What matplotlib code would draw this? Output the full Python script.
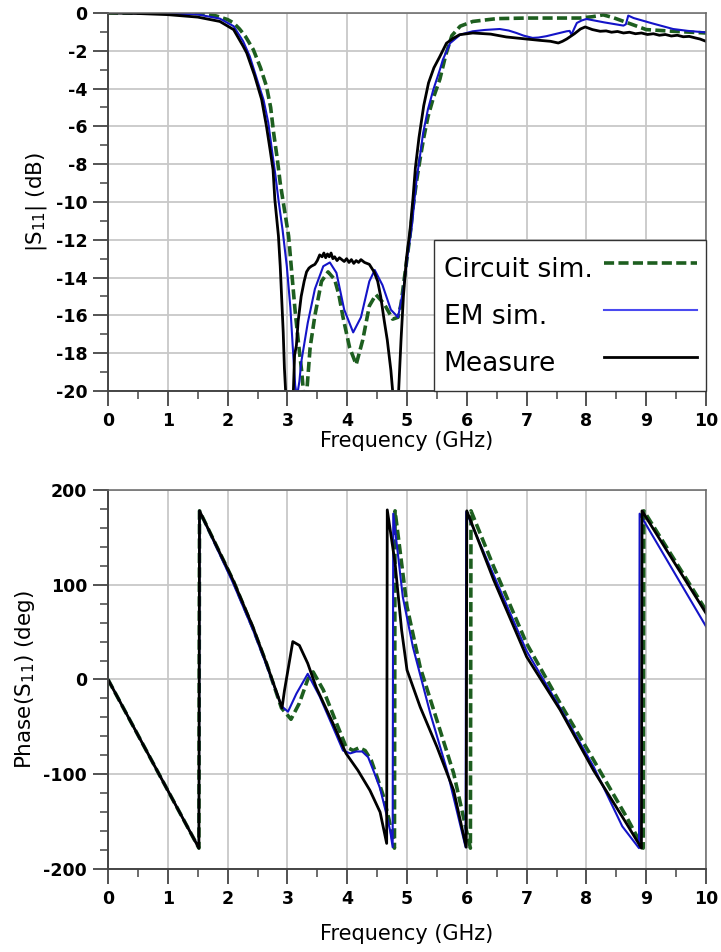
import matplotlib
matplotlib.use("Agg")
import matplotlib.pyplot as plt
from matplotlib.ticker import MultipleLocator

plt.rcParams['font.family'] = ['DejaVu Sans']
plt.rcParams['axes.unicode_minus'] = False
plt.rcParams['mathtext.fontset'] = 'dejavusans'

# ---------------- |S11| data (dB) ----------------
f_mag_circ = [0, 0.5, 1.0, 1.5, 1.8, 2.0, 2.1, 2.2, 2.3, 2.43, 2.55, 2.65, 2.72, 2.77, 2.83,
              2.88, 2.95, 3.02, 3.08, 3.13, 3.19, 3.24, 3.28, 3.3, 3.32, 3.38, 3.46, 3.57,
              3.68, 3.79, 3.86, 3.93, 4.04, 4.15, 4.26, 4.37, 4.48, 4.62, 4.76, 4.85, 4.9,
              4.94, 5.0, 5.05, 5.1, 5.16, 5.22, 5.28, 5.35, 5.44, 5.55, 5.65, 5.75, 5.89,
              6.1, 6.5, 7.0, 7.5, 7.89, 8.1, 8.28, 8.45, 8.67, 9.0, 9.45, 10.0]
mag_circ = [0, 0, -0.01, -0.03, -0.15, -0.35, -0.53, -0.85, -1.25, -1.94, -2.9, -3.88, -5.0,
            -6.35, -7.7, -9.0, -10.4, -11.8, -14.0, -15.8, -17.6, -19.0, -20.5, -20.6, -20.2,
            -17.7, -16.0, -14.2, -13.7, -14.1, -14.9, -16.1, -17.7, -18.6, -17.3, -15.5,
            -14.9, -15.4, -16.2, -16.1, -15.4, -14.4, -13.0, -11.8, -10.3, -8.9, -7.7,
            -6.6, -5.5, -4.5, -3.5, -2.2, -1.2, -0.7, -0.45, -0.3, -0.27, -0.27, -0.27,
            -0.2, -0.1, -0.25, -0.5, -0.88, -0.97, -1.06]

f_mag_em = [0, 0.5, 1.0, 1.5, 1.87, 2.1, 2.26, 2.37, 2.5, 2.6, 2.68, 2.74, 2.8, 2.85, 2.92,
            2.99, 3.05, 3.1, 3.13, 3.16, 3.2, 3.23, 3.34, 3.46, 3.6, 3.71, 3.82, 3.95, 4.1,
            4.23, 4.37, 4.46, 4.59, 4.73, 4.85, 4.94, 5.02, 5.08, 5.16, 5.22, 5.27, 5.35,
            5.44, 5.55, 5.6, 5.72, 5.89, 6.1, 6.3, 6.55, 6.7, 6.83, 6.95, 7.1, 7.2, 7.33,
            7.5, 7.67, 7.72, 7.75, 7.8, 7.84, 7.92, 8.0, 8.3, 8.62, 8.66, 8.7, 8.79, 9.1,
            9.45, 9.7, 10.0]
mag_em = [0, -0.01, -0.03, -0.08, -0.3, -0.7, -1.5, -2.29, -3.6, -4.59, -5.8, -7.23, -8.6,
          -9.88, -11.5, -13.4, -15.6, -18.2, -19.7, -20.3, -19.5, -18.5, -16.4, -14.6, -13.4,
          -13.2, -13.75, -15.7, -16.9, -16.1, -14.2, -13.6, -14.4, -15.7, -16.1, -14.6,
          -12.6, -11.3, -8.8, -7.5, -6.35, -5.1, -4.06, -3.0, -2.47, -1.6, -1.15, -0.97,
          -0.9, -0.85, -0.93, -1.06, -1.2, -1.32, -1.3, -1.23, -1.1, -0.97, -0.95, -1.15,
          -0.8, -0.53, -0.4, -0.32, -0.5, -0.67, -0.6, -0.14, -0.27, -0.55, -0.85, -0.95,
          -1.03]

f_mag_meas = [0, 0.5, 1.0, 1.5, 1.87, 2.1, 2.26, 2.32, 2.45, 2.57, 2.65, 2.71, 2.76, 2.79,
              2.85, 2.88, 2.91, 2.93, 2.95, 2.97, 2.99, 3.08, 3.1, 3.12, 3.15, 3.18, 3.23,
              3.28, 3.32, 3.36, 3.4, 3.46, 3.5, 3.54, 3.58, 3.61, 3.64, 3.67, 3.7, 3.73,
              3.76, 3.79, 3.83, 3.87, 3.91, 3.95, 3.99, 4.03, 4.07, 4.11, 4.15, 4.19, 4.23,
              4.29, 4.37, 4.45, 4.51, 4.56, 4.62, 4.67, 4.73, 4.76, 4.78, 4.84, 4.86, 4.9,
              4.94, 4.99, 5.05, 5.1, 5.14, 5.2, 5.28, 5.36, 5.45, 5.55, 5.66, 5.77, 5.88,
              6.1, 6.4, 6.66, 7.0, 7.22, 7.4, 7.53, 7.6, 7.67, 7.8, 7.9, 7.98, 8.1, 8.23,
              8.33, 8.42, 8.52, 8.62, 8.72, 8.82, 8.92, 9.02, 9.12, 9.22, 9.32, 9.42, 9.52,
              9.62, 9.72, 9.82, 9.9, 10.0]
mag_meas = [0, -0.03, -0.09, -0.22, -0.45, -0.88, -1.76, -2.12, -3.3, -4.59, -6.0, -7.23,
            -8.3, -9.88, -11.8, -13.4, -15.5, -16.9, -18.8, -20.0, -22.0, -22.0, -20.0,
            -18.1, -17.6, -16.3, -15.0, -14.2, -13.7, -13.5, -13.4, -13.3, -13.1, -12.8,
            -12.9, -12.7, -12.95, -12.75, -12.9, -12.7, -13.0, -12.9, -13.1, -12.95, -13.05,
            -13.15, -13.0, -13.2, -13.05, -13.25, -13.1, -13.2, -13.05, -13.2, -13.3, -13.7,
            -14.2, -15.0, -16.3, -17.3, -18.9, -20.0, -22.0, -22.0, -20.0, -17.3, -15.0,
            -13.0, -11.5, -9.8, -8.2, -6.6, -4.9, -3.7, -2.9, -2.3, -1.6, -1.35, -1.15,
            -1.06, -1.12, -1.27, -1.38, -1.45, -1.5, -1.59, -1.5, -1.38, -1.1, -0.85, -0.74,
            -0.88, -0.97, -0.95, -1.02, -0.98, -1.06, -1.02, -1.1, -1.06, -1.14, -1.1, -1.18,
            -1.14, -1.22, -1.18, -1.26, -1.24, -1.32, -1.38, -1.5]

# ---------------- Phase(S11) data (deg) ----------------
f_ph_circ = [0, 1.52, 1.53, 2.09, 2.42, 2.65, 2.9, 3.06, 3.2, 3.34, 3.43, 3.6, 3.82, 3.98,
             4.1, 4.2, 4.3, 4.4, 4.5, 4.6, 4.7, 4.79, 4.8, 5.0, 5.22, 5.5, 5.78, 6.06, 6.07,
             6.45, 7.0, 7.56, 8.12, 8.67, 8.95, 8.96, 10.0]
ph_circ = [0, -178, 178, 105, 55, 17, -30, -42, -25, 0, 8, -11, -46, -71, -75, -72, -75,
           -85, -103, -122, -148, -178, 178, 77, 13, -43, -99, -178, 178, 119, 38, -25, -85,
           -145, -178, 178, 73]

f_ph_em = [0, 1.52, 1.53, 2.09, 2.42, 2.65, 2.9, 3.01, 3.15, 3.34, 3.54, 3.76, 3.93, 4.05,
           4.15, 4.25, 4.35, 4.45, 4.55, 4.64, 4.72, 4.76, 4.77, 4.93, 5.1, 5.39, 5.67, 5.98,
           5.99, 6.45, 7.0, 7.56, 8.12, 8.6, 8.88, 8.89, 10.0]
ph_em = [0, -178, 178, 102, 53, 15, -28, -34, -15, 6, -18, -50, -75, -78, -76, -76, -82,
         -98, -115, -138, -160, -177, 175, 87, 34, -36, -96, -177, 177, 110, 30, -30, -92,
         -155, -178, 175, 56]

f_ph_meas = [0, 1.52, 1.53, 2.09, 2.42, 2.65, 2.91, 2.95, 3.09, 3.2, 3.34, 3.48, 3.76, 3.98,
             4.18, 4.38, 4.55, 4.66, 4.67, 4.8, 4.91, 5.0, 5.22, 5.5, 5.78, 5.99, 6.0, 6.45,
             7.0, 7.56, 8.12, 8.67, 8.92, 8.93, 10.0]
ph_meas = [0, -178, 178, 105, 56, 17, -30, -12, 40, 36, 17, -8, -46, -78, -96, -117, -140,
           -173, 179, 123, 52, 10, -29, -71, -117, -177, 178, 105, 24, -32, -96, -152, -178,
           178, 70]

labels = ['Circuit sim.', 'EM sim.', 'Measure']
c_green = '#1d5e1f'
c_blue = '#1414c8'
c_black = '#000000'

fig = plt.figure(figsize=(7.21, 9.52), dpi=100)
ax1 = fig.add_axes([0.1498, 0.5893, 0.8294, 0.3971])
ax2 = fig.add_axes([0.1498, 0.0872, 0.8294, 0.3981])

def style(ax):
    ax.grid(True, which='major', color='#c8c8c8', lw=1.3)
    ax.set_axisbelow(True)
    for s in ['left', 'bottom']:
        ax.spines[s].set_color('#444444')
        ax.spines[s].set_linewidth(1.4)
    for s in ['top', 'right']:
        ax.spines[s].set_color('#666666')
        ax.spines[s].set_linewidth(1.1)
    ax.tick_params(which='major', direction='out', length=11, width=1.3, color='#444444',
                   labelsize=12.5, pad=4)
    ax.tick_params(which='minor', direction='out', length=6, width=1.1, color='#444444')
    for t in ax.get_xticklabels() + ax.get_yticklabels():
        t.set_fontweight('bold')
    ax.set_xlim(0, 10)
    ax.xaxis.set_major_locator(MultipleLocator(1))
    ax.xaxis.set_minor_locator(MultipleLocator(0.5))

# top plot
l1, = ax1.plot(f_mag_circ, mag_circ, color=c_green, lw=2.6, dashes=(2.8, 1.2))
l2, = ax1.plot(f_mag_em, mag_em, color=c_blue, lw=1.5)
l3, = ax1.plot(f_mag_meas, mag_meas, color=c_black, lw=2.0)
ax1.set_ylim(-20, 0)
ax1.yaxis.set_major_locator(MultipleLocator(2))
ax1.yaxis.set_minor_locator(MultipleLocator(1))
style(ax1)
ax1.set_xlabel('Frequency (GHz)', fontsize=15, labelpad=1)
ax1.set_ylabel('|S$_{11}$| (dB)', fontsize=15.5)
ax1.yaxis.set_label_coords(-0.098, 0.5)

leg = ax1.legend([l1, l2, l3], labels, loc='lower right', bbox_to_anchor=(1, 0),
                 borderaxespad=0, fontsize=19, markerfirst=False, handlelength=3.5,
                 handleheight=1.9, handletextpad=0.45, labelspacing=0.3, borderpad=0.35,
                 fancybox=False, framealpha=1, edgecolor='#333333')
leg.get_frame().set_linewidth(1.0)
leg.get_lines()[1].set_color('#4a4af0')

# bottom plot
ax2.plot(f_ph_circ, ph_circ, color=c_green, lw=2.6, dashes=(2.8, 1.2))
ax2.plot(f_ph_em, ph_em, color=c_blue, lw=1.5)
ax2.plot(f_ph_meas, ph_meas, color=c_black, lw=2.0)
ax2.set_ylim(-200, 200)
ax2.yaxis.set_major_locator(MultipleLocator(100))
ax2.yaxis.set_minor_locator(MultipleLocator(20))
style(ax2)
ax2.set_xlabel('Frequency (GHz)', fontsize=15, labelpad=12)
ax2.set_ylabel('Phase(S$_{11}$) (deg)', fontsize=15.5)
ax2.yaxis.set_label_coords(-0.118, 0.5)

# left-align legend texts while keeping handles right-aligned
fig.canvas.draw()
renderer = fig.canvas.get_renderer()
texts = leg.get_texts()
widths = [t.get_window_extent(renderer).width for t in texts]
maxw = max(widths)
column = leg._legend_handle_box.get_children()[0]
column.align = 'left'
for row, w in zip(column.get_children(), widths):
    row.sep = row.sep + (maxw - w) * 72.0 / fig.dpi

fig.savefig('out.png', dpi=100)
